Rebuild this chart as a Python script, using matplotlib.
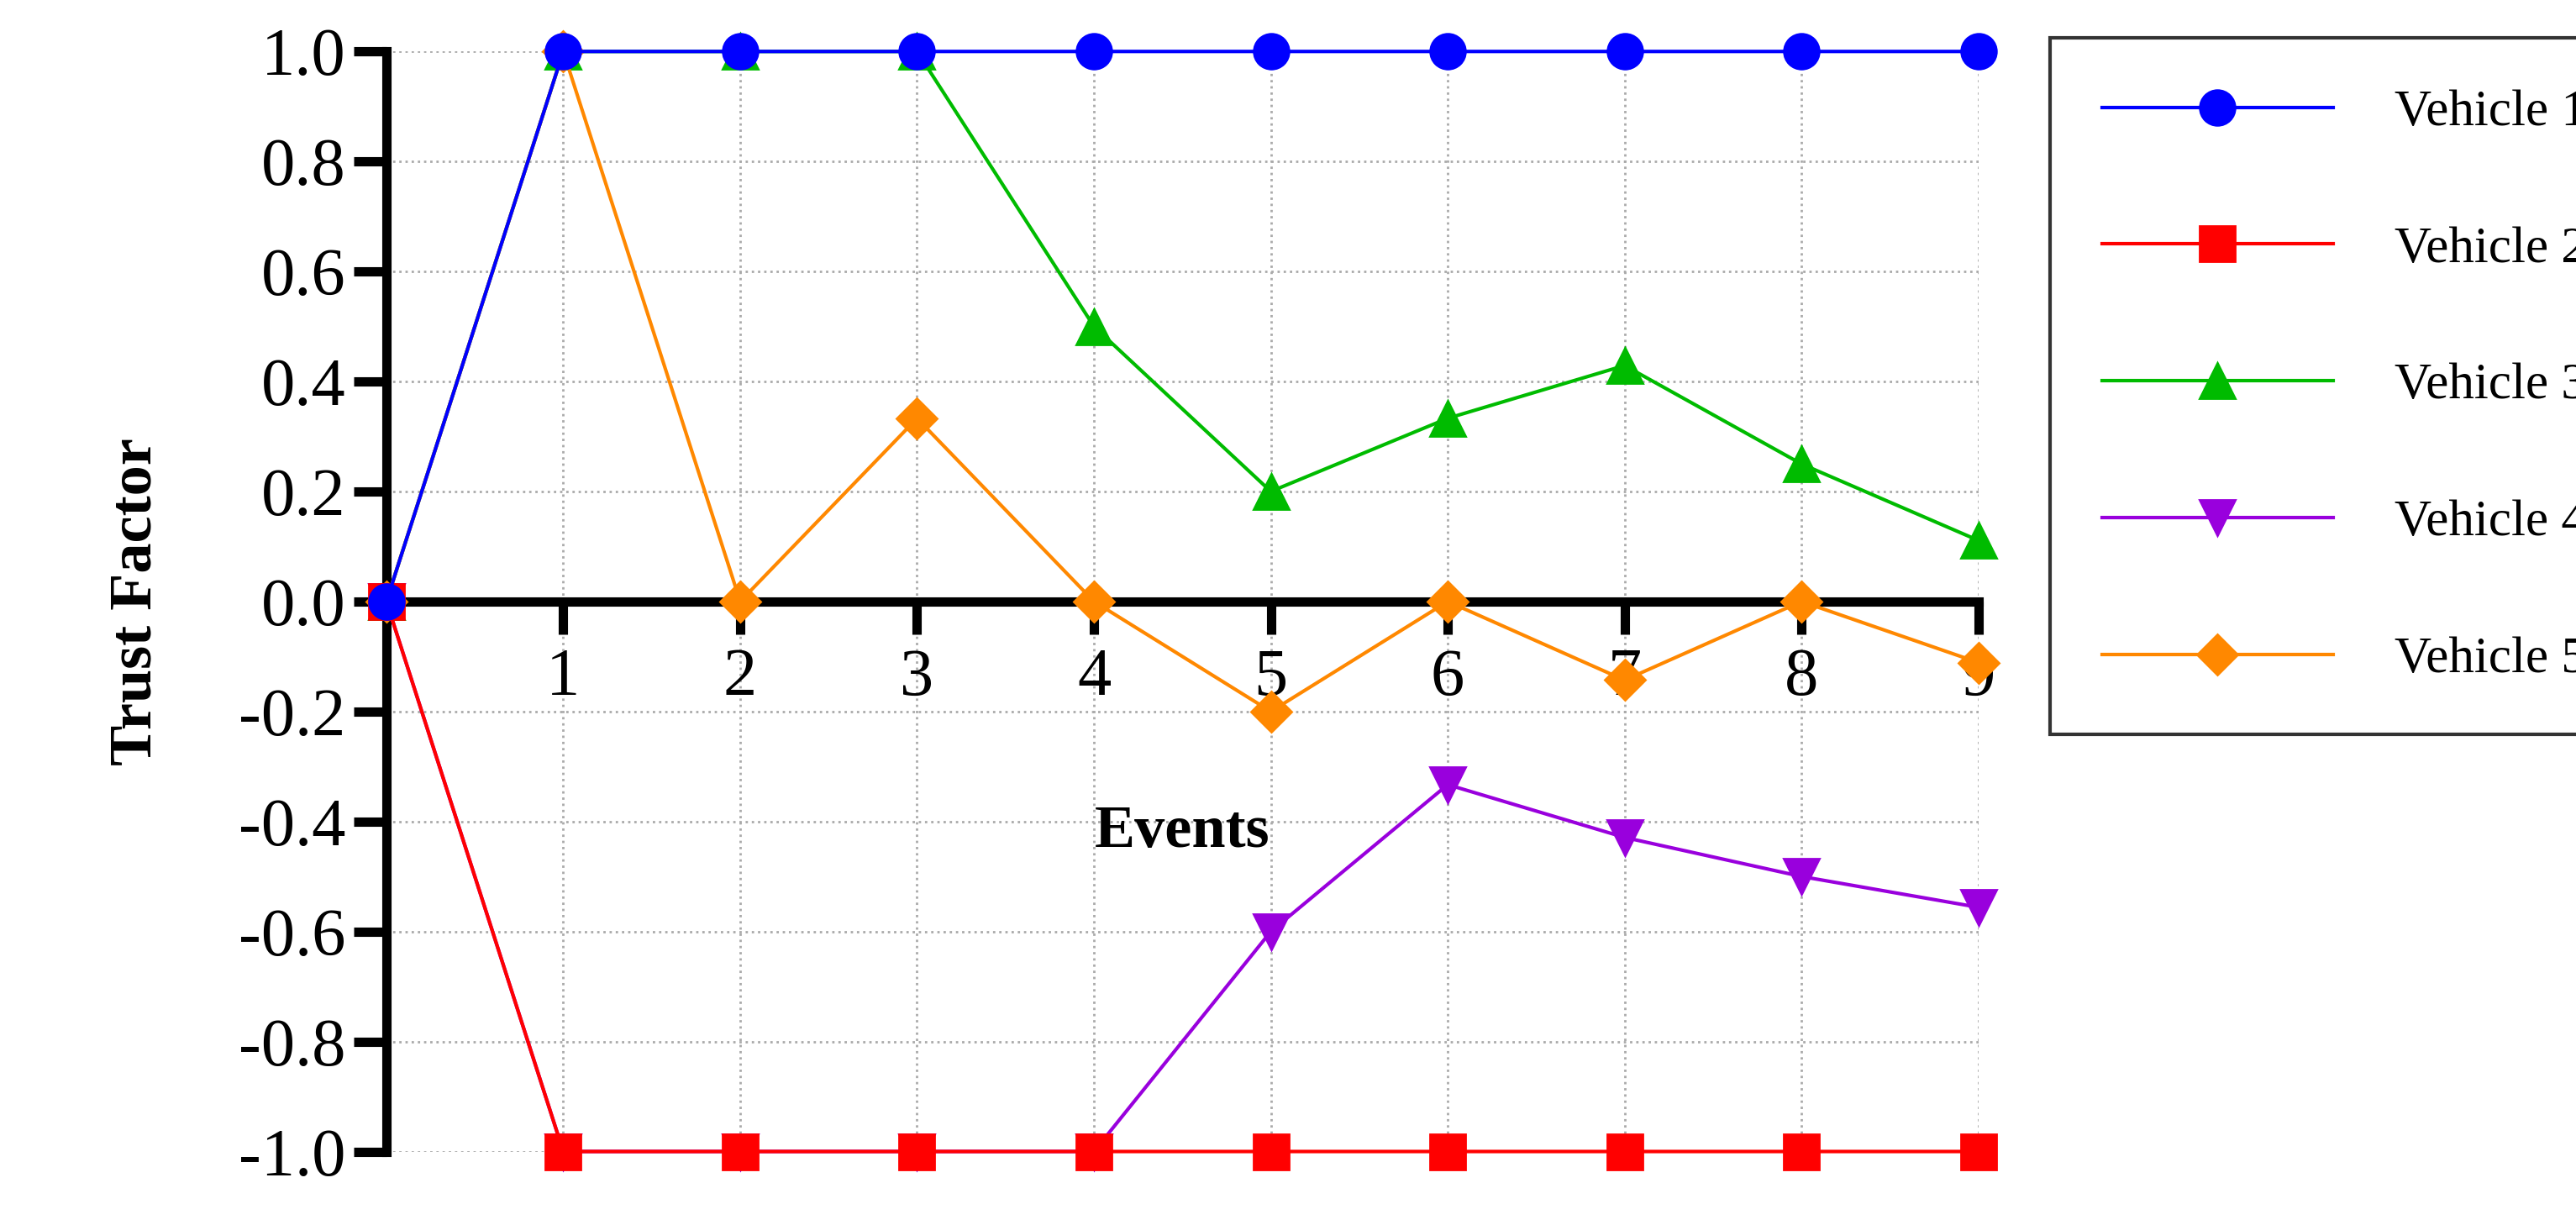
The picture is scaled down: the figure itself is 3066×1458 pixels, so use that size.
import matplotlib.pyplot as plt
import numpy as np

plt.rcParams['font.family'] = ['Liberation Serif', 'DejaVu Serif']

# data
events = np.arange(0, 10)
vehicle1 = [0, 1, 1, 1, 1, 1, 1, 1, 1, 1]
vehicle2 = [0, -1, -1, -1, -1, -1, -1, -1, -1, -1]
vehicle3 = [0, 1, 1, 1, 0.5, 0.2, 0.333, 0.429, 0.25, 0.111]
vehicle4 = [0, -1, -1, -1, -1, -0.6, -0.333, -0.429, -0.5, -0.556]
vehicle5 = [0, 1, 0, 0.333, 0, -0.2, 0, -0.143, 0, -0.111]
labels = ['Vehicle 1', 'Vehicle 2', 'Vehicle 3', 'Vehicle 4', 'Vehicle 5']
yticks = [-1.0, -0.8, -0.6, -0.4, -0.2, 0.0, 0.2, 0.4, 0.6, 0.8, 1.0]
ytick_labels = ['-1.0', '-0.8', '-0.6', '-0.4', '-0.2', '0.0', '0.2', '0.4', '0.6', '0.8', '1.0']

fig = plt.figure(figsize=(15.33, 7.29), dpi=200)
ax = fig.add_axes([0.150, 0.06, 0.618, 0.898])

ms = 15
kw = dict(lw=1.5, clip_on=False)
ax.plot(events, vehicle4, color='#9900dd', marker='v', ms=ms, label=labels[3], zorder=3, **kw)
ax.plot(events, vehicle3, color='#00bb00', marker='^', ms=ms, label=labels[2], zorder=3, **kw)
ax.plot(events, vehicle5, color='#ff8800', marker='D', ms=ms - 3, label=labels[4], zorder=4, **kw)
ax.plot(events, vehicle2, color='#ff0000', marker='s', ms=ms, label=labels[1], zorder=5, **kw)
ax.plot(events, vehicle1, color='#0000ff', marker='o', ms=ms, label=labels[0], zorder=6, **kw)

ax.set_xlim(0, 9)
ax.set_ylim(-1, 1)
ax.set_yticks(yticks)
ax.set_yticklabels(ytick_labels)
ax.set_xticks(range(1, 10))
ax.grid(True, color='#aaaaaa', linestyle=':', lw=1)

ax.spines['top'].set_visible(False)
ax.spines['right'].set_visible(False)
ax.spines['left'].set_linewidth(4)
ax.spines['bottom'].set_position(('data', 0))
ax.spines['bottom'].set_linewidth(4)
ax.tick_params(axis='both', width=4, length=14, labelsize=29, direction='out')
ax.tick_params(axis='x', pad=6)
for s in ax.spines.values():
    s.set_clip_on(False)

ax.set_ylabel('Trust Factor', fontsize=26, fontweight='bold', labelpad=32)
ax.text(4.5, -0.42, 'Events', fontsize=26, fontweight='bold', ha='center', va='center')

handles, labs = ax.get_legend_handles_labels()
order = [labs.index(l) for l in labels]
leg = fig.legend([handles[i] for i in order], labels, loc='upper left',
                 bbox_to_anchor=(0.786, 0.99), fontsize=22, frameon=True,
                 fancybox=False, edgecolor='black', labelspacing=1.75,
                 borderpad=1.0, handlelength=4.5, handletextpad=1.2)
leg.get_frame().set_linewidth(1.5)

fig.savefig('out.png', dpi=200)
